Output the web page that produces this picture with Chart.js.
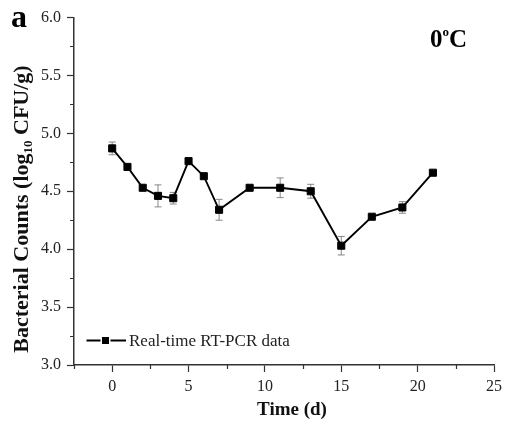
<!DOCTYPE html>
<html>
<head>
<meta charset="utf-8">
<script src="https://cdn.jsdelivr.net/npm/chart.js@4.4.1/dist/chart.umd.min.js"></script>
<style>
  html, body { margin: 0; padding: 0; background: #fff; }
  #wrap { width: 507px; height: 428px; position: relative; }
</style>
</head>
<body>
<div id="wrap"><canvas id="c" width="507" height="428"></canvas></div>
<script>
// ---- Data ----
const days = [0, 1, 2, 3, 4, 5, 6, 7, 9, 11, 13, 15, 17, 19, 21];
const counts = [4.87, 4.71, 4.53, 4.46, 4.44, 4.76, 4.63, 4.34, 4.53, 4.53, 4.50, 4.03, 4.28, 4.36, 4.66];
const errors = [0.055, 0.025, 0.02, 0.095, 0.05, 0.02, 0.02, 0.09, 0.02, 0.085, 0.06, 0.08, 0.01, 0.05, 0.01];
const seriesLabel = 'Real-time RT-PCR data';
const xTicks = [0, 5, 10, 15, 20, 25];
const xMinorTicks = [-2.5, 2.5, 7.5, 12.5, 17.5, 22.5];
const yTicks = [3.0, 3.5, 4.0, 4.5, 5.0, 5.5, 6.0];
const yMinorTicks = [3.25, 3.75, 4.25, 4.75, 5.25, 5.75];
const xTitle = 'Time (d)';
const yTitleParts = ['Bacterial Counts (log', '10', ' CFU/g)'];
const panelLabel = 'a';
const tempLabel = ['0', 'o', 'C'];

const SERIF = '"Liberation Serif", "Times New Roman", serif';
const AXIS = '#333';

const decorPlugin = {
  id: 'decor',
  beforeDatasetsDraw(chart) {
    const ctx = chart.ctx;
    const xs = chart.scales.x, ys = chart.scales.y;
    ctx.save();
    ctx.strokeStyle = '#888';
    ctx.lineWidth = 1;
    days.forEach((d, i) => {
      const e = errors[i];
      const px = xs.getPixelForValue(d);
      const y1 = ys.getPixelForValue(counts[i] + e);
      const y2 = ys.getPixelForValue(counts[i] - e);
      ctx.beginPath();
      ctx.moveTo(px, y1); ctx.lineTo(px, y2);
      ctx.moveTo(px - 3.5, y1); ctx.lineTo(px + 3.5, y1);
      ctx.moveTo(px - 3.5, y2); ctx.lineTo(px + 3.5, y2);
      ctx.stroke();
    });
    ctx.restore();
  },
  afterDraw(chart) {
    const ctx = chart.ctx;
    const xs = chart.scales.x, ys = chart.scales.y;
    const a = chart.chartArea;
    ctx.save();
    // minor ticks
    ctx.strokeStyle = AXIS;
    ctx.lineWidth = 1.2;
    ctx.beginPath();
    xMinorTicks.forEach(v => {
      const px = Math.round(xs.getPixelForValue(v)) + 0.5;
      ctx.moveTo(px, a.bottom); ctx.lineTo(px, a.bottom + 4);
    });
    yMinorTicks.forEach(v => {
      const py = Math.round(ys.getPixelForValue(v)) + 0.5;
      ctx.moveTo(a.left, py); ctx.lineTo(a.left - 4, py);
    });
    ctx.stroke();

    // y title with subscript
    ctx.fillStyle = '#111';
    const big = 'bold 22px ' + SERIF, small = 'bold 13px ' + SERIF;
    ctx.font = big; const w0 = ctx.measureText(yTitleParts[0]).width;
    const w2 = ctx.measureText(yTitleParts[2]).width;
    ctx.font = small; const w1 = ctx.measureText(yTitleParts[1]).width;
    const total = w0 + w1 + w2;
    ctx.translate(28, 209);
    ctx.rotate(-Math.PI / 2);
    ctx.textBaseline = 'alphabetic';
    ctx.textAlign = 'left';
    let x = -total / 2;
    ctx.font = big; ctx.fillText(yTitleParts[0], x, 0); x += w0;
    ctx.font = small; ctx.fillText(yTitleParts[1], x, 4); x += w1;
    ctx.font = big; ctx.fillText(yTitleParts[2], x, 0);
    ctx.setTransform(1, 0, 0, 1, 0, 0);

    // x title
    ctx.fillStyle = '#111';
    ctx.font = 'bold 19px ' + SERIF;
    ctx.textAlign = 'center';
    ctx.fillText(xTitle, 292, 415);
    ctx.textAlign = 'left';

    // panel label
    ctx.fillStyle = '#000';
    ctx.font = 'bold 32px ' + SERIF;
    ctx.fillText(panelLabel, 11, 27);

    // temperature label
    ctx.font = 'bold 25px ' + SERIF;
    let tx = 430;
    ctx.fillText(tempLabel[0], tx, 47); tx += ctx.measureText(tempLabel[0]).width;
    ctx.font = 'bold 13px ' + SERIF;
    ctx.fillText(tempLabel[1], tx, 36); tx += ctx.measureText(tempLabel[1]).width;
    ctx.font = 'bold 25px ' + SERIF;
    ctx.fillText(tempLabel[2], tx, 47);

    // legend
    const ly = 340.5;
    ctx.strokeStyle = '#000';
    ctx.lineWidth = 1.8;
    ctx.beginPath();
    ctx.moveTo(86.5, ly); ctx.lineTo(100.5, ly);
    ctx.moveTo(110.5, ly); ctx.lineTo(126, ly);
    ctx.stroke();
    ctx.fillStyle = '#000';
    ctx.fillRect(102, ly - 3.5, 7, 7);
    ctx.fillStyle = '#222';
    ctx.font = '17px ' + SERIF;
    ctx.textBaseline = 'middle';
    ctx.fillText(seriesLabel, 129, ly + 1);
    ctx.restore();
  }
};

new Chart(document.getElementById('c'), {
  type: 'line',
  data: {
    datasets: [{
      label: seriesLabel,
      data: days.map((d, i) => ({ x: d, y: counts[i] })),
      borderColor: '#000',
      borderWidth: 1.9,
      backgroundColor: '#000',
      pointStyle: 'rect',
      pointRadius: 5,
      pointBorderWidth: 1,
      pointBorderColor: '#000',
      pointBackgroundColor: '#000',
      tension: 0
    }]
  },
  options: {
    responsive: false,
    animation: false,
    devicePixelRatio: 1,
    layout: { padding: { top: 17.5, right: 11.5, left: 0, bottom: 0 } },
    plugins: { legend: { display: false }, tooltip: { enabled: false } },
    scales: {
      x: {
        type: 'linear',
        min: -2.5, max: 25,
        afterBuildTicks: s => { s.ticks = xTicks.map(v => ({ value: v })); },
        afterFit: s => { s.height = 63; },
        grid: { drawOnChartArea: false, drawTicks: true, tickLength: 7, tickColor: AXIS, tickWidth: 1.2 },
        border: { display: true, color: AXIS, width: 1.5 },
        ticks: { color: '#222', font: { family: SERIF, size: 16 }, padding: 5, maxRotation: 0,
                 callback: v => String(v) },
        title: { display: false }
      },
      y: {
        type: 'linear',
        min: 3.0, max: 6.0,
        afterBuildTicks: s => { s.ticks = yTicks.map(v => ({ value: v })); },
        afterFit: s => { s.width = 74; },
        grid: { drawOnChartArea: false, drawTicks: true, tickLength: 7, tickColor: AXIS, tickWidth: 1.2 },
        border: { display: true, color: AXIS, width: 1.5 },
        ticks: { color: '#222', font: { family: SERIF, size: 16 }, padding: 6,
                 callback: v => Number(v).toFixed(1) }
      }
    }
  },
  plugins: [decorPlugin]
});
</script>
</body>
</html>
